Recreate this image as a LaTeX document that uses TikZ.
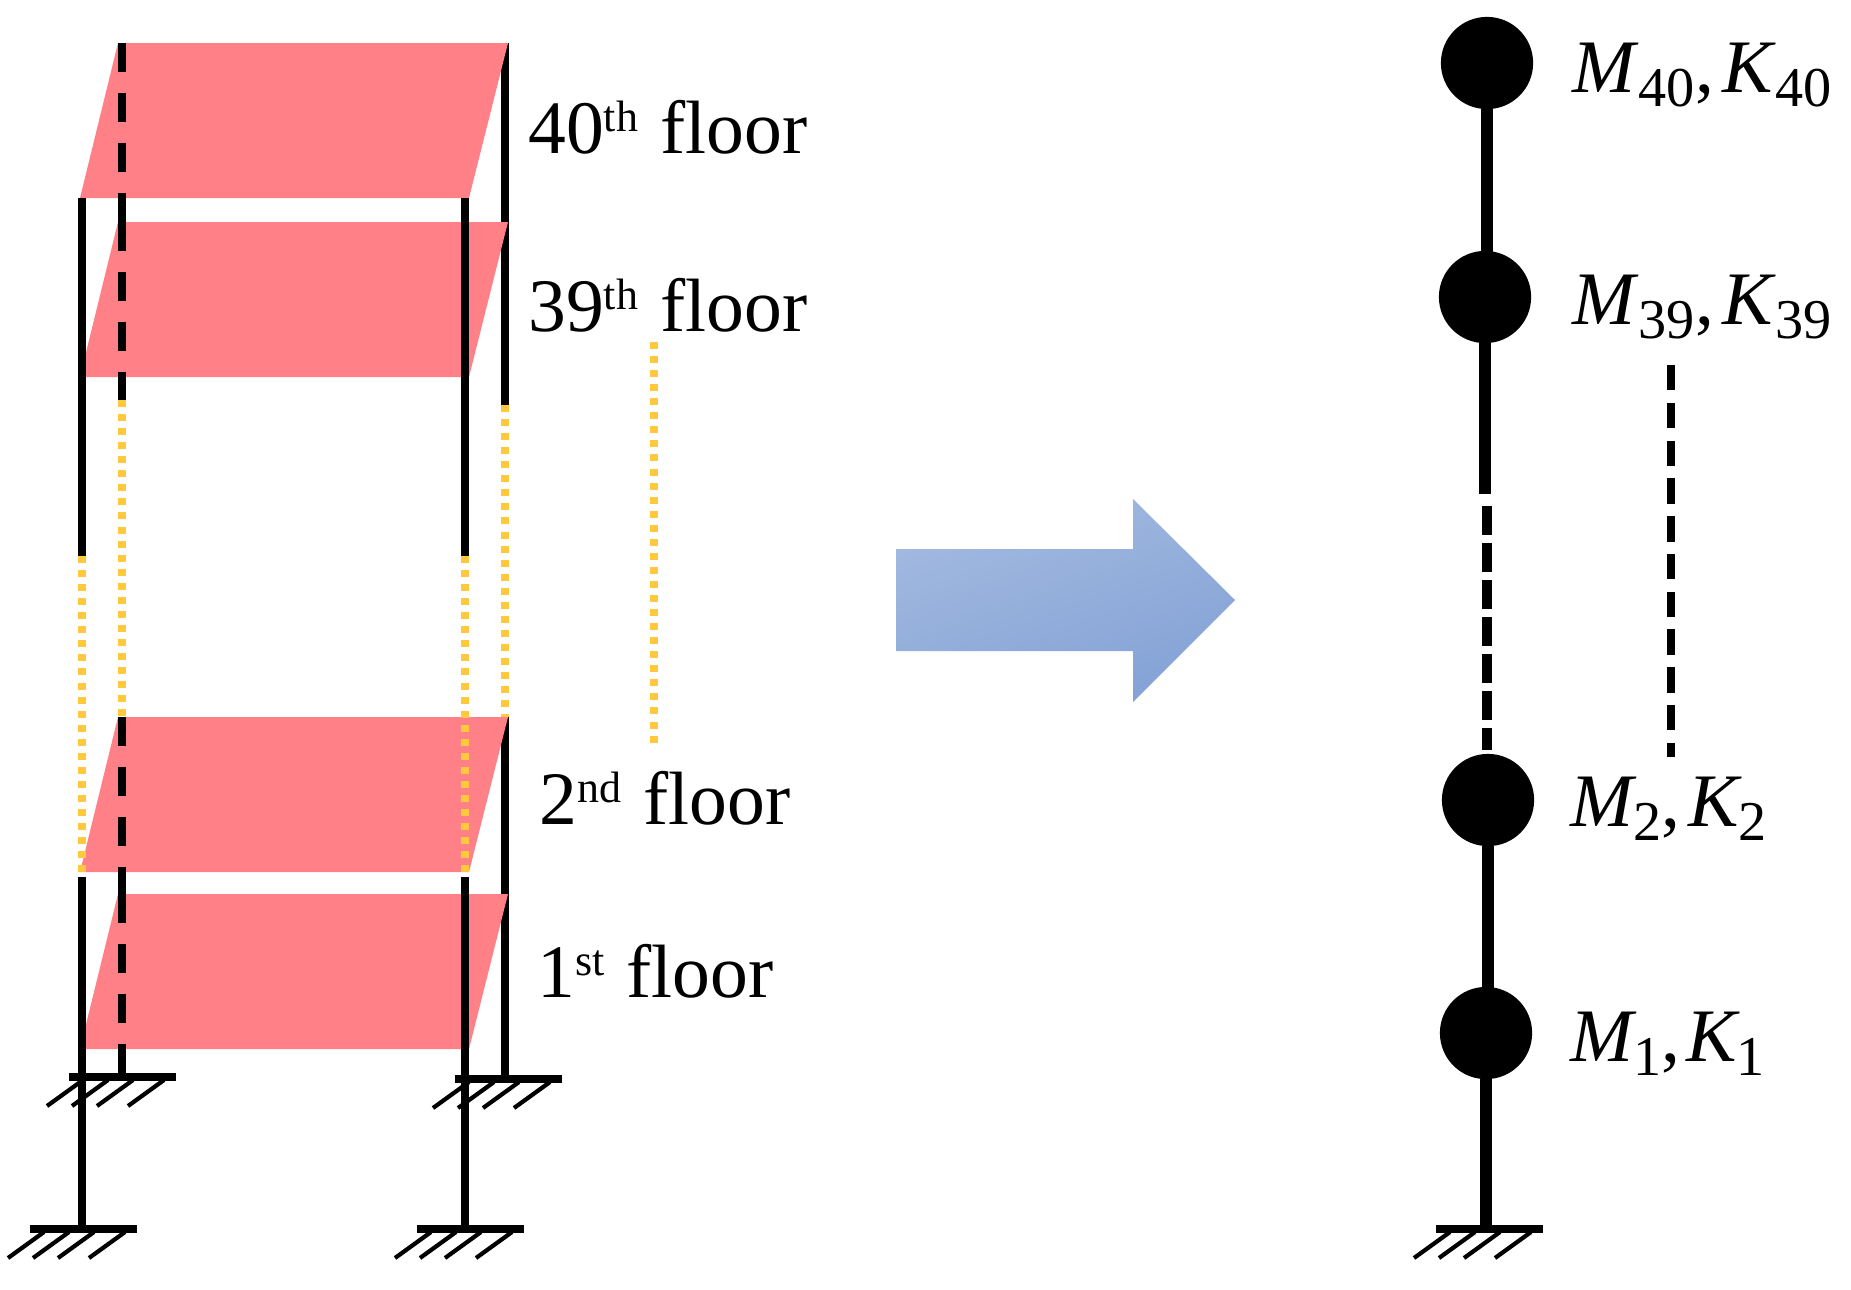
\documentclass[tikz,border=0pt]{standalone}
\usepackage{fontspec}
\setmainfont{Liberation Serif}
\definecolor{floorred}{HTML}{FF8086}
\definecolor{dotyellow}{HTML}{FFC83D}
\definecolor{arrowlight}{HTML}{A3BAE0}
\definecolor{arrowdark}{HTML}{84A2D6}
\newcommand{\ordinal}[1]{\raisebox{12.5pt}{\fontsize{25}{25}\selectfont #1}{\kern2pt}}
\newcommand{\lumped}[3][0pt]{\textit{#2}\kern#1\raisebox{-8.5pt}{\fontsize{32}{32}\selectfont #3}}
\tikzset{
    column/.style={line width=4.3pt},
    backcolumn/.style={line width=4.3pt,dash pattern=on 16.5pt off 11.9pt},
    fade/.style={line width=4pt,color=dotyellow,dash pattern=on 4pt off 4pt},
    floorplate/.style={fill=floorred},
    floorlabel/.style={anchor=base west,inner sep=0pt,font=\fontsize{43}{50}\selectfont},
    masslabel/.style={anchor=base west,inner sep=0pt,font=\fontsize{43}{50}\selectfont},
    mass/.style={circle,fill=black,minimum size=52.5pt,inner sep=0pt},
    stick/.style={line width=7.3pt},
    ground/.pic={
        \draw[line width=4.6pt] (0,0) -- (107,0);
        \foreach \x in {-22,3,28,59}
            \draw[line width=2.4pt] (\x,29) -- (\x+36,3);
    }
}
\begin{document}
\begin{tikzpicture}[x=0.02cm,y=-0.02cm]
    \useasboundingbox (0,0) rectangle (1851,1289);
    %% far right column lies behind the floors
    \draw[column] (505,43) -- (505,405);
    \draw[column] (505,717) -- (505,1077);
    %% floors
    \foreach \t/\b in {43/198,222/377,717/872,894/1049}
        \fill[floorplate] (118,\t) -- (508,\t) -- (469,\b) -- (80,\b) -- cycle;
    %% far left column
    \foreach \t/\b in {43/198,222/400,717/872,894/1049}
        \draw[backcolumn] (122,\t) -- (122,\b);
    \draw[column] (122,193) -- (122,222);
    \draw[column] (122,868) -- (122,894);
    \draw[column] (122,1045) -- (122,1077);
    %% near columns
    \foreach \x in {82,465} {
        \draw[column] (\x,198) -- (\x,556);
        \draw[column] (\x,877) -- (\x,1229);
    }
    %% faded part
    \foreach \x/\t/\b in {82/556/877,465/556/877,122/400/717,505/405/717,654/342/745}
        \draw[fade] (\x,\t) -- (\x,\b);
    %% supports
    \pic at (69,1077) {ground};
    \pic at (455,1079) {ground};
    \pic at (30,1229) {ground};
    \pic at (417,1229) {ground};
    %% floor labels
    \node[floorlabel] (f40) at (528,153) {40\ordinal{th} floor};
    \node[floorlabel] (f39) at (528,331) {39\ordinal{th} floor};
    \node[floorlabel] (f2) at (539,824) {2\ordinal{nd} floor};
    \node[floorlabel] (f1) at (537,997) {1\ordinal{st} floor};
    %% arrow
    \shade[top color=arrowlight,bottom color=arrowdark,shading angle=20]
        (896,549) -- (1133,549) -- (1133,499) -- (1235,600) -- (1133,702) -- (1133,651) -- (896,651) -- cycle;
    %% lumped model
    \node[mass] (m40) at (1487,63) {};
    \node[mass] (m39) at (1485,297) {};
    \node[mass] (m2) at (1488,800) {};
    \node[mass] (m1) at (1486,1033) {};
    \coordinate (cut) at (1485,494);
    \coordinate (resume) at (1487,506);
    \coordinate (base) at (1486,1229);
    \draw[stick] (m40) -- (m40 |- m39);
    \draw[stick] (m39) -- (cut);
    \draw[line width=5.4pt,dash pattern=on 16.5pt off 4.6pt,shorten >=2pt] (resume) -- (resume |- m2.north);
    \draw[stick] (m2) -- (m2 |- m1);
    \draw[stick] (m1) -- (base);
    \pic at (1436,1229) {ground};
    %% mass labels
    \node[masslabel] (l40) at (1572,92) {\lumped{M}{40}, \kern-6pt\lumped{K}{40}};
    \node[masslabel] (l39) at (1572,324) {\lumped{M}{39}, \kern-6pt\lumped{K}{39}};
    \node[masslabel] (l2) at (1570,826) {\lumped[-2pt]{M}{2}, \kern-6pt\lumped[-2pt]{K}{2}};
    \node[masslabel] (l1) at (1570,1061) {\lumped[-2pt]{M}{1}, \kern-7pt\lumped[-2pt]{K}{1}};
    \coordinate (gapt) at (1671,365);
    \coordinate (gapb) at (1671,757);
    \draw[line width=4.6pt,dash pattern=on 14.5pt off 7pt] (gapt) -- (gapb);
\end{tikzpicture}
\end{document}
